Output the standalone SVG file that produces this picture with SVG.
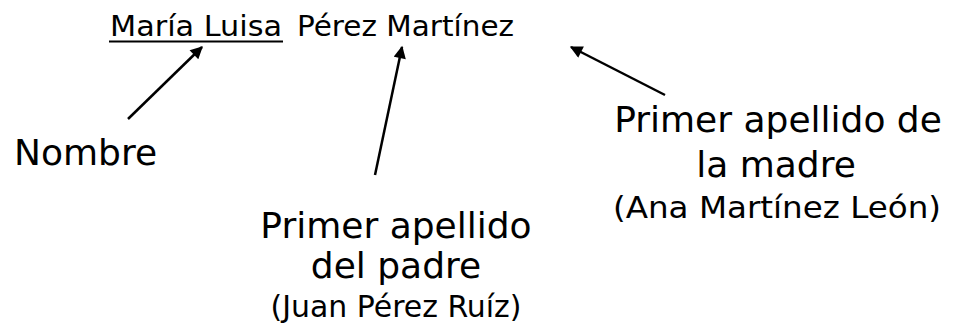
<svg xmlns="http://www.w3.org/2000/svg" width="953" height="329" viewBox="0 0 953 329">
<style>
text{font-family:"DejaVu Sans","Liberation Sans",sans-serif;fill:#000}
.big{font-size:36px}
.mid{font-size:28px}
.sub{font-size:30px}
.c{text-anchor:middle}
.arr{stroke:#000;stroke-width:2.5;fill:none;marker-end:url(#ah)}
</style>
<defs>
<marker id="ah" viewBox="0 0 10 10" refX="9" refY="5" markerWidth="5.6" markerHeight="5" orient="auto" markerUnits="strokeWidth">
<path d="M0,0 L10,5 L0,10 z" fill="#000"/>
</marker>
</defs>
<rect width="953" height="329" fill="#fff"/>
<g id="name">
<text class="mid" x="110" y="36" textLength="172" lengthAdjust="spacingAndGlyphs">María Luisa</text>
<text class="mid" x="297" y="36" textLength="217" lengthAdjust="spacingAndGlyphs">Pérez Martínez</text>
<rect x="109" y="40.5" width="174" height="2" fill="#000"/>
</g>
<g id="nombre">
<text class="big" x="14" y="165">Nombre</text>
</g>
<g id="padre">
<text class="big c" x="396" y="238">Primer apellido</text>
<text class="big c" x="396" y="278">del padre</text>
<text class="sub c" x="396" y="317" textLength="251" lengthAdjust="spacingAndGlyphs">(Juan Pérez Ruíz)</text>
</g>
<g id="madre">
<text class="big c" x="778" y="132">Primer apellido de</text>
<text class="big c" x="776" y="177">la madre</text>
<text class="sub c" x="777" y="218" textLength="328" lengthAdjust="spacingAndGlyphs">(Ana Martínez León)</text>
</g>
<g id="connectors">
<line class="arr" x1="128" y1="119" x2="202" y2="47"/>
<line class="arr" x1="375" y1="175" x2="402" y2="47"/>
<line class="arr" x1="665" y1="95" x2="571" y2="47"/>
</g>
</svg>
